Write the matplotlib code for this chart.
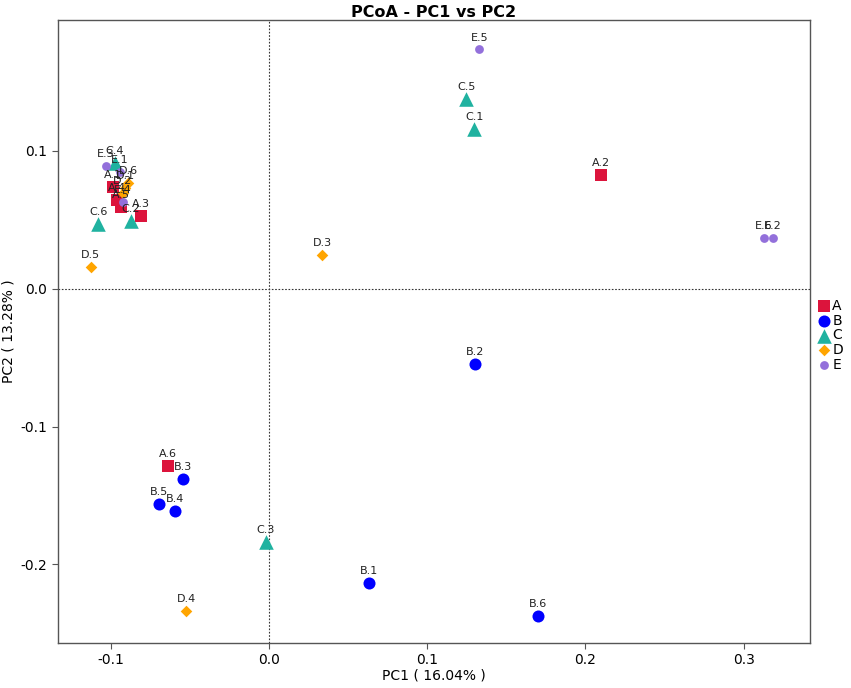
import matplotlib.pyplot as plt

# sample coordinates (PC1, PC2)
grupy = ["A", "B", "C", "D", "E"]

a_nazwy = ["A.1", "A.2", "A.3", "A.4", "A.5", "A.6"]
a_x = [-0.0987, 0.2095, -0.081, -0.0962, -0.0937, -0.064]
a_y = [0.074, 0.0828, 0.053, 0.0646, 0.0595, -0.1285]

b_nazwy = ["B.1", "B.2", "B.3", "B.4", "B.5", "B.6"]
b_x = [0.0633, 0.130, -0.0544, -0.0595, -0.0696, 0.170]
b_y = [-0.2135, -0.0545, -0.138, -0.161, -0.156, -0.2375]

c_nazwy = ["C.1", "C.2", "C.3", "C.4", "C.5", "C.6"]
c_x = [0.1297, -0.0873, -0.002, -0.0975, 0.1247, -0.108]
c_y = [0.116, 0.049, -0.1837, 0.0915, 0.138, 0.047]

d_nazwy = ["D.1", "D.2", "D.3", "D.4", "D.5", "D.6"]
d_x = [-0.091, -0.0924, 0.0335, -0.0525, -0.1127, -0.0892]
d_y = [0.073, 0.0697, 0.0247, -0.234, 0.016, 0.077]

e_nazwy = ["E.1", "E.2", "E.3", "E.4", "E.5", "E.6"]
e_x = [-0.0943, 0.3184, -0.1032, -0.0924, 0.133, 0.3127]
e_y = [0.085, 0.037, 0.0893, 0.063, 0.1736, 0.037]

kolory = ["#DC143C", "#0000FF", "#20B2A0", "#FFA500", "#9370DB"]
markery = ["s", "o", "^", "D", "o"]
rozmiary = [80, 75, 110, 35, 40]

dane = [(a_nazwy, a_x, a_y), (b_nazwy, b_x, b_y), (c_nazwy, c_x, c_y),
        (d_nazwy, d_x, d_y), (e_nazwy, e_x, e_y)]

fig = plt.figure(figsize=(8.51, 6.88), dpi=100)
ax = fig.add_axes([0.068, 0.0654, 0.884, 0.9056])

ax.axvline(0, color="#333333", linestyle=(0, (1.5, 1.5)), linewidth=0.8, zorder=1)
ax.axhline(0, color="#333333", linestyle=(0, (1.5, 1.5)), linewidth=0.8, zorder=1)

for i in range(len(grupy)):
    nazwy, xs, ys = dane[i]
    ax.scatter(xs, ys, s=rozmiary[i], c=kolory[i], marker=markery[i],
               linewidths=0, label=grupy[i], zorder=3)
    for j in range(len(nazwy)):
        ax.annotate(nazwy[j], (xs[j], ys[j]), xytext=(0, 5), textcoords="offset points",
                    ha="center", va="bottom", fontsize=8, color="#222222", zorder=4)

ax.set_xlim(-0.1335, 0.342)
ax.set_ylim(-0.257, 0.195)
ax.set_xticks([-0.1, 0.0, 0.1, 0.2, 0.3])
ax.set_xticklabels(["-0.1", "0.0", "0.1", "0.2", "0.3"])
ax.set_yticks([-0.2, -0.1, 0.0, 0.1])
ax.set_yticklabels(["-0.2", "-0.1", "0.0", "0.1"])
ax.tick_params(labelsize=10, length=4, color="#555555")
for s in ax.spines.values():
    s.set_color("#555555")
    s.set_linewidth(1.0)

ax.set_xlabel("PC1 ( 16.04% )", fontsize=10, labelpad=1)
ax.set_ylabel("PC2 ( 13.28% )", fontsize=10, labelpad=4)
ax.set_title("PCoA - PC1 vs PC2", fontsize=11.5, fontweight="bold", pad=1)

ax.legend(loc="center left", bbox_to_anchor=(1.0, 0.494), frameon=False,
          fontsize=10, handletextpad=0.0, labelspacing=0.05, borderaxespad=0.0,
          handlelength=1.2, markerscale=1.0)

plt.savefig("out.png", dpi=100)
